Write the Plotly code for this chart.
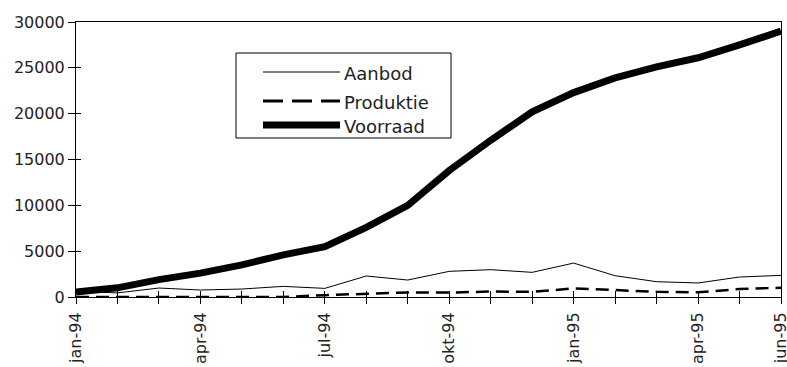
import plotly.graph_objects as go

months = ["jan-94", "feb-94", "mrt-94", "apr-94", "mei-94", "jun-94", "jul-94", "aug-94", "sep-94",
          "okt-94", "nov-94", "dec-94", "jan-95", "feb-95", "mrt-95", "apr-95", "mei-95", "jun-95"]
shown_labels = ["jan-94", "apr-94", "jul-94", "okt-94", "jan-95", "apr-95", "jun-95"]

aanbod = [600, 450, 980, 760, 870, 1160, 940, 2290, 1850, 2800, 2980, 2690, 3700, 2320, 1670, 1530, 2180, 2360]
produktie = [0, 0, 0, 0, 0, 0, 200, 360, 500, 480, 600, 560, 940, 760, 560, 510, 870, 1010]
voorraad = [550, 1000, 1900, 2600, 3500, 4600, 5500, 7600, 10000, 13800, 17100, 20200, 22300, 23900, 25100, 26100, 27500, 29000]

y_ticks = [0, 5000, 10000, 15000, 20000, 25000, 30000]

x = list(range(len(months)))
ticktext = [m if m in shown_labels else "" for m in months]

FONT = "DejaVu Sans"
TXT = "#222222"

fig = go.Figure()
fig.add_trace(go.Scatter(x=x, y=aanbod, mode="lines", name="Aanbod",
                         line=dict(color="black", width=1), showlegend=False))
fig.add_trace(go.Scatter(x=x, y=produktie, mode="lines", name="Produktie",
                         line=dict(color="black", width=2.5, dash="13px,7px"), showlegend=False))
fig.add_trace(go.Scatter(x=x, y=voorraad, mode="lines", name="Voorraad",
                         line=dict(color="black", width=7), showlegend=False))
# invisible trace to host the overlay axes (inside ticks)
fig.add_trace(go.Scatter(x=x, y=voorraad, mode="lines", xaxis="x2", yaxis="y2",
                         line=dict(color="rgba(0,0,0,0)", width=0), hoverinfo="skip", showlegend=False))

common_x = dict(range=[0, 17], tickvals=x, showgrid=False, zeroline=False, automargin=False)
common_y = dict(range=[0, 30000], tickvals=y_ticks, showgrid=False, zeroline=False, automargin=False)

fig.update_layout(
    width=787, height=367,
    margin=dict(l=76, r=6, t=22, b=70, autoexpand=False),
    paper_bgcolor="white", plot_bgcolor="white",
    font=dict(family=FONT, size=16, color=TXT),
    xaxis=dict(**common_x, ticktext=ticktext, tickangle=-90, ticks="outside", ticklen=6,
               ticklabelstandoff=2, ticklabeloverflow="allow",
               tickcolor="black", showline=True, linecolor="black", linewidth=1, mirror=True,
               tickfont=dict(family=FONT, size=16, color=TXT)),
    yaxis=dict(**common_y, ticktext=[str(v) for v in y_ticks], ticks="outside", ticklen=7,
               ticklabeloverflow="allow",
               tickcolor="black", showline=True, linecolor="black", linewidth=1, mirror=True,
               tickfont=dict(family=FONT, size=16, color=TXT)),
    xaxis2=dict(**common_x, overlaying="x", anchor="y2", side="bottom", ticks="inside", ticklen=6,
                tickcolor="black", showticklabels=False, showline=False),
    yaxis2=dict(**common_y, overlaying="y", anchor="x2", side="left", ticks="inside", ticklen=5,
                tickcolor="black", showticklabels=False, showline=False),
)

# legend box (drawn in paper coordinates)
def px_x(p):
    return (p - 76) / 705.0

def px_y(p):
    return (297 - p) / 275.0

fig.add_shape(type="rect", xref="paper", yref="paper",
              x0=px_x(236), x1=px_x(451), y0=px_y(138), y1=px_y(53),
              line=dict(color="black", width=1), fillcolor="white", layer="above")
legend_items = [("Aanbod", 72, dict(color="black", width=1)),
                ("Produktie", 101, dict(color="black", width=3, dash="20px,9px")),
                ("Voorraad", 125, dict(color="black", width=7))]
for name, yy, ln in legend_items:
    fig.add_shape(type="line", xref="paper", yref="paper",
                  x0=px_x(263), x1=px_x(340), y0=px_y(yy), y1=px_y(yy), line=ln, layer="above")
    fig.add_annotation(xref="paper", yref="paper", x=px_x(342), y=px_y(yy + 1),
                       text=name, showarrow=False, xanchor="left", yanchor="middle",
                       font=dict(family=FONT, size=18, color=TXT))

fig.write_html("out.html", config={"displayModeBar": False},
               post_script="document.body.style.margin='0';document.body.style.overflow='hidden';")
